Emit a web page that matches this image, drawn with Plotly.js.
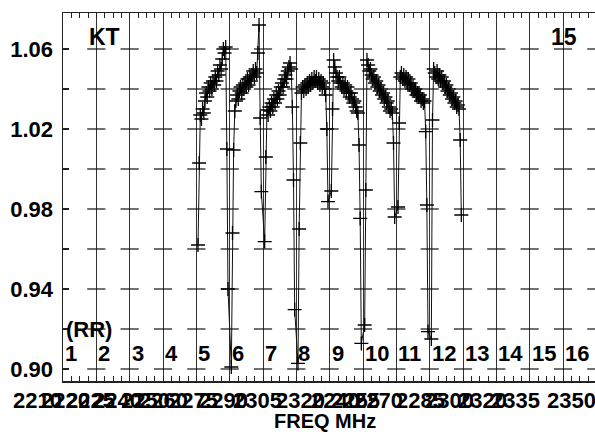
<!DOCTYPE html>
<html><head><meta charset="utf-8">
<script src="https://cdn.plot.ly/plotly-3.0.1.min.js"></script>
<style>html,body{margin:0;padding:0;background:#fff}#chart{width:595px;height:434px}</style>
</head><body><div id="chart"></div>
<script>
// ---- data (amplitude ratio per spectral channel, one array per IF) ----
const if5  = [0.962, 1.003, 1.027, 1.025, 1.030, 1.028, 1.034, 1.038, 1.036, 1.041, 1.039, 1.043, 1.040, 1.044, 1.042, 1.046, 1.044, 1.049, 1.047, 1.052, 1.050, 1.055, 1.060, 1.058, 1.061, 1.010, 0.940];
const if6  = [0.901, 0.968, 1.0095, 1.029, 1.034, 1.037, 1.035, 1.039, 1.041, 1.038, 1.042, 1.040, 1.043, 1.041, 1.045, 1.042, 1.046, 1.044, 1.047, 1.049, 1.046, 1.050, 1.048, 1.058, 1.072, 1.0255, 0.9887];
const if7  = [0.9637, 1.006, 1.0295, 1.027, 1.031, 1.029, 1.033, 1.031, 1.035, 1.033, 1.037, 1.035, 1.039, 1.037, 1.041, 1.043, 1.041, 1.045, 1.047, 1.045, 1.049, 1.051, 1.053, 1.050, 1.031, 0.9945, 0.9297];
const if8  = [0.9028, 0.970, 1.013, 1.038, 1.041, 1.039, 1.042, 1.040, 1.043, 1.041, 1.044, 1.042, 1.045, 1.043, 1.046, 1.044, 1.046, 1.043, 1.045, 1.042, 1.044, 1.041, 1.043, 1.040, 1.037, 1.020, 0.9837];
const if9  = [0.989, 1.030, 1.0545, 1.051, 1.048, 1.046, 1.044, 1.046, 1.043, 1.041, 1.043, 1.040, 1.042, 1.039, 1.041, 1.038, 1.036, 1.038, 1.035, 1.033, 1.034, 1.031, 1.029, 1.028, 1.012, 0.9753, 0.9128];
const if10 = [0.922, 0.9895, 1.0545, 1.052, 1.049, 1.050, 1.047, 1.045, 1.046, 1.043, 1.044, 1.041, 1.042, 1.039, 1.040, 1.037, 1.038, 1.035, 1.036, 1.033, 1.034, 1.031, 1.029, 1.030, 1.028, 1.013, 0.976];
const if11 = [0.981, 1.023, 1.046, 1.048, 1.045, 1.047, 1.044, 1.046, 1.043, 1.045, 1.042, 1.043, 1.040, 1.041, 1.039, 1.040, 1.037, 1.038, 1.036, 1.037, 1.034, 1.035, 1.033, 1.034, 1.0187, 0.982, 0.9187];
const if12 = [0.915, 1.0245, 1.050, 1.048, 1.046, 1.049, 1.045, 1.047, 1.044, 1.046, 1.043, 1.044, 1.041, 1.042, 1.039, 1.040, 1.037, 1.038, 1.035, 1.036, 1.033, 1.034, 1.031, 1.032, 1.030, 1.0145, 0.977];
const ifNumbers = [5, 6, 7, 8, 9, 10, 11, 12];
const ifSeries  = [if5, if6, if7, if8, if9, if10, if11, if12];

const channelLabels = ['1','2','3','4','5','6','7','8','9','10','11','12','13','14','15','16'];
const yTickVals = [0.90, 0.92, 0.94, 0.96, 0.98, 1.00, 1.02, 1.04, 1.06];
const yTickText = ['0.90', '', '0.94', '', '0.98', '', '1.02', '', '1.06'];
const freqLabels = ['2210','2220','2225','2240','2250','2260','2275','2290','2305','2320','2240','2255','2270','2285','2300','2320','2335','2350'];
const antennaName = 'KT';
const panelNumber = '15';
const polLabel = '(RR)';
const xTitle = 'FREQ MHz';

// ---- layout helpers (positions, not data) ----
const freqLabelPx = [37, 65, 90, 117, 145, 163, 193, 223, 257, 300, 335, 355, 378, 420, 450, 482, 515, 571];
const plotLeft = 63, plotWidth = 532, plotBottom = 381, plotHeight = 368;
const FONT = 'Liberation Sans, Arial, sans-serif';

// build main trace
const xs = [], ys = [];
ifSeries.forEach((vals, j) => {
  const i = ifNumbers[j], n = vals.length;
  vals.forEach((v, k) => { xs.push(i - 1 + 0.05 + 0.9 * k / (n - 1)); ys.push(v); });
});

// grid crosses at channel boundaries
const cx = [], cy = [];
for (let g = 1; g <= 16; g++) yTickVals.forEach(v => { cx.push(g); cy.push(v); });

const traces = [
  { x: cx, y: cy, type: 'scatter', mode: 'markers', hoverinfo: 'skip', cliponaxis: true,
    marker: { symbol: 'line-ew', size: 13, color: '#111', line: { width: 1.2, color: '#111' } } },
  { x: xs, y: ys, type: 'scatter', mode: 'lines+markers', cliponaxis: true,
    line: { color: '#111', width: 1 },
    marker: { symbol: 'cross-thin', size: 10, color: '#000', line: { width: 1.3, color: '#000' } } }
];

const annotations = [];
channelLabels.forEach((t, i) => annotations.push({
  text: t, xref: 'x', yref: 'y', x: i, y: 0.9078, xanchor: 'left', yanchor: 'middle', showarrow: false,
  font: { family: FONT, size: 22, color: '#000', weight: 'bold' }
}));
annotations.push({ text: polLabel, xref: 'x', yref: 'y', x: 0.02, y: 0.9200, xanchor: 'left', yanchor: 'middle', showarrow: false,
  font: { family: FONT, size: 22, color: '#000', weight: 'bold' } });
annotations.push({ text: antennaName, xref: 'x', yref: 'y', x: 0.72, y: 1.066, xanchor: 'left', yanchor: 'middle', showarrow: false,
  font: { family: FONT, size: 23, color: '#000', weight: 'bold' } });
annotations.push({ text: panelNumber, xref: 'x', yref: 'y', x: 14.58, y: 1.066, xanchor: 'left', yanchor: 'middle', showarrow: false,
  font: { family: FONT, size: 23, color: '#000', weight: 'bold' } });
freqLabels.forEach((t, i) => annotations.push({
  text: t, xref: 'paper', yref: 'paper', x: (freqLabelPx[i] - plotLeft) / plotWidth, y: (plotBottom - 400) / plotHeight,
  xanchor: 'center', yanchor: 'middle', showarrow: false,
  font: { family: FONT, size: 22, color: '#000', weight: 'bold' }
}));
annotations.push({ text: xTitle, xref: 'paper', yref: 'paper', x: (325 - plotLeft) / plotWidth, y: (plotBottom - 421) / plotHeight,
  xanchor: 'center', yanchor: 'middle', showarrow: false, borderpad: 0,
  font: { family: FONT, size: 20, color: '#000', weight: 'bold' } });

const layout = {
  width: 595, height: 434,
  margin: { l: 63, r: 0, t: 13, b: 53, pad: 0 },
  paper_bgcolor: '#fff', plot_bgcolor: '#fff',
  showlegend: false,
  xaxis: {
    range: [0, 15.96], tickmode: 'linear', tick0: 0, dtick: 1,
    ticks: 'inside', ticklen: 5, tickcolor: '#222', tickwidth: 1,
    showticklabels: false, showgrid: true, gridcolor: '#333', gridwidth: 1, zeroline: false,
    showline: true, linecolor: '#222', linewidth: 1.5, mirror: 'ticks',
    minor: { tick0: 0, dtick: 0.25, ticks: 'inside', ticklen: 5, tickcolor: '#222', tickwidth: 1, showgrid: false }
  },
  yaxis: {
    range: [0.894, 1.078], tickmode: 'array', tickvals: yTickVals, ticktext: yTickText,
    ticks: 'inside', ticklen: 6, tickcolor: '#222', tickwidth: 1.2,
    showgrid: false, zeroline: false, showline: true, linecolor: '#222', linewidth: 1.5,
    ticklabelstandoff: 4,
    tickfont: { family: FONT, size: 22, color: '#000', weight: 'bold' }
  },
  annotations: annotations
};

Plotly.newPlot('chart', traces, layout, { displayModeBar: false, staticPlot: true });
</script>
</body></html>
